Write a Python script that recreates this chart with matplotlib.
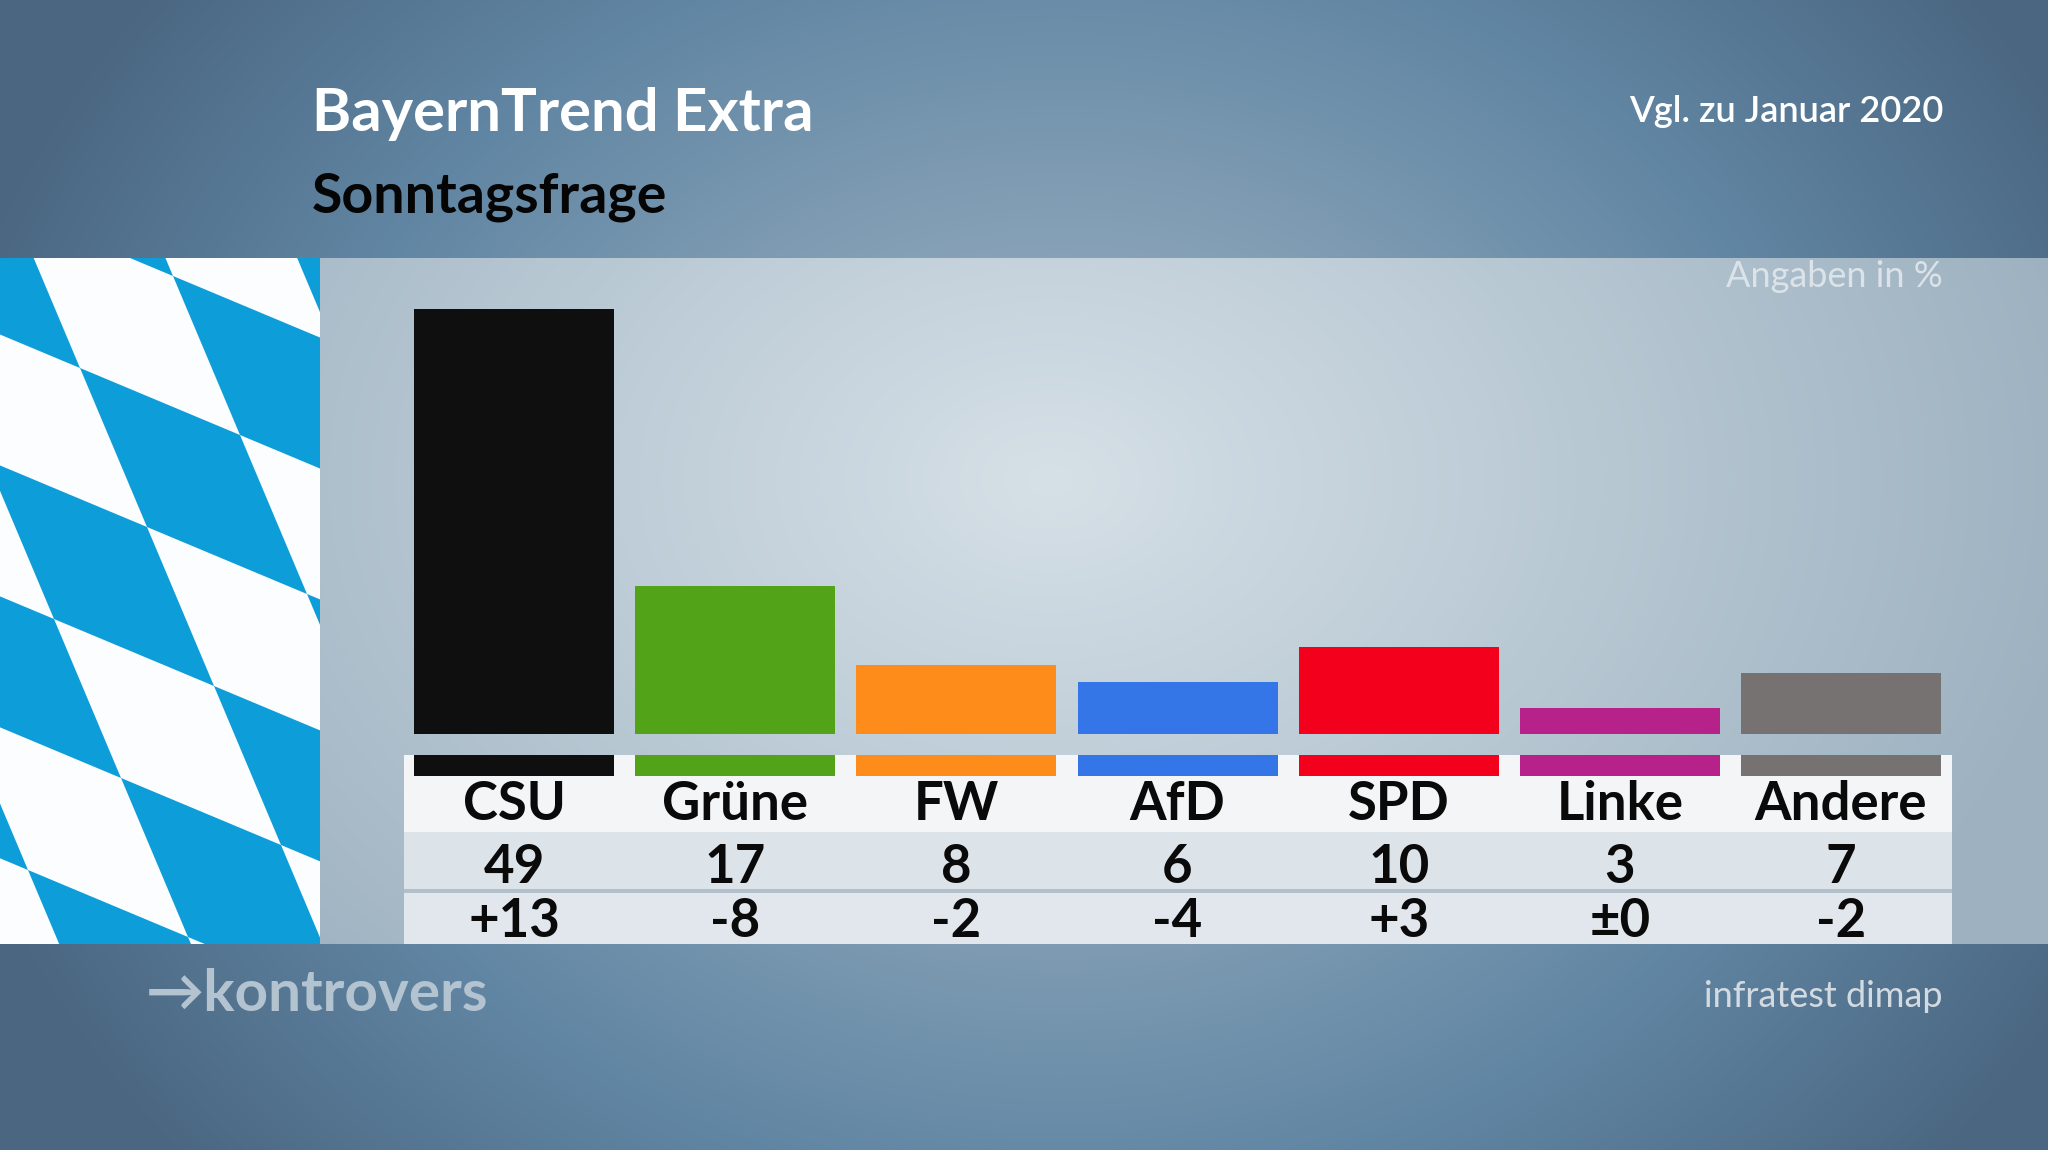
import matplotlib.pyplot as plt
import numpy as np
from matplotlib.patches import Polygon, Rectangle
from matplotlib.colors import to_rgb

# data
parties = ['CSU', 'Grüne', 'FW', 'AfD', 'SPD', 'Linke', 'Andere']
values = [49, 17, 8, 6, 10, 3, 7]
changes = ['+13', '-8', '-2', '-4', '+3', '±0', '-2']
colors = ['#0f0f0f', '#52a318', '#fd8c1b', '#3476e8', '#f2001c', '#b7228a', '#777272']

title = 'BayernTrend Extra'
subtitle = 'Sonntagsfrage'
compare = 'Vgl. zu Januar 2020'
unit_note = 'Angaben in %'
source = 'infratest dimap'
logo = '→kontrovers'

W, H = 2048, 1150
FONT = ['Lato', 'DejaVu Sans']


def px(x, y):
    # pixel position (from top-left) -> figure fraction
    return x / W, 1 - y / H


def gradient(x0, x1, y0, y1, cx, cy, rx, ry, stops):
    yy, xx = np.mgrid[y0:y1, x0:x1]
    t = np.clip(np.sqrt(((xx - cx) / rx) ** 2 + ((yy - cy) / ry) ** 2), 0, 1)
    pos = np.linspace(0, 1, len(stops))
    rgb = np.array([to_rgb(c) for c in stops])
    out = np.stack([np.interp(t, pos, rgb[:, c]) for c in range(3)], axis=-1)
    return out


fig = plt.figure(figsize=(20.48, 11.5), dpi=100)

# background layer in pixel coordinates
bg = fig.add_axes([0, 0, 1, 1])
bg.imshow(gradient(0, W, 0, H, 1060, 560, 1150, 950, ['#a4b9c9', '#86a1b7', '#6186a3', '#4a6681']),
          extent=(0, W, H, 0), aspect='auto', zorder=0)
band_top, band_bot, flag_w = 258, 944, 320
bg.imshow(gradient(flag_w, W, band_top, band_bot, 1050, 480, 1050, 750, ['#d6e0e7', '#b9c9d4', '#9db1c0']),
          extent=(flag_w, W, band_bot, band_top), aspect='auto', zorder=1)

# Bavarian flag (lozenges)
clip = Rectangle((0, band_top), flag_w, band_bot - band_top, facecolor='#fbfdfe',
                 edgecolor='none', zorder=2)
bg.add_patch(clip)
origin = np.array([80, 368])
a = np.array([160, 67])
b = np.array([67, 159])
for i in range(-6, 8):
    for j in range(-6, 8):
        if (i + j) % 2 != 0:
            continue
        p0 = origin + i * a + j * b
        poly = Polygon([p0, p0 + a, p0 + a + b, p0 + b], closed=True,
                       facecolor='#0d9dd8', edgecolor='none', zorder=3)
        bg.add_patch(poly)
        poly.set_clip_path(clip)

bg.set_xlim(0, W)
bg.set_ylim(H, 0)
bg.axis('off')

# bar chart + table axes
k = 8.68          # pixels per percent
base = 734        # baseline pixel row
ymax = (base - band_top) / k
ymin = -(band_bot - base) / k
left, right = 403.6, 1951.5
ax = fig.add_axes([left / W, (H - band_bot) / H, (right - left) / W, (band_bot - band_top) / H])
ax.patch.set_alpha(0)

x = np.arange(len(parties))
bw = 200 / 221.2
ax.bar(x, values, width=bw, color=colors, zorder=3)


def u(ypx):
    return (base - ypx) / k


# table rows
ax.axhspan(u(832), u(755), color='#f4f5f6', zorder=1, lw=0)
ax.axhspan(u(889), u(832), color='#dce3e9', zorder=1, lw=0)
ax.axhspan(u(893), u(889), color='#b2c0cb', zorder=1, lw=0)
ax.axhspan(u(944), u(893), color='#e1e7ec', zorder=1, lw=0)
ax.bar(x, u(776) - u(755), bottom=u(755), width=bw, color=colors, zorder=3)

for i in range(len(parties)):
    ax.text(x[i], u(820), parties[i], ha='center', va='baseline', fontsize=38,
            fontweight='bold', family=FONT, color='#0a0a0a', zorder=4)
    ax.text(x[i], u(883), str(values[i]), ha='center', va='baseline', fontsize=38,
            fontweight='bold', family=FONT, color='#0a0a0a', zorder=4)
    ax.text(x[i], u(937), changes[i], ha='center', va='baseline', fontsize=38,
            fontweight='bold', family=FONT, color='#0a0a0a', zorder=4)

ax.set_xlim(-0.5, 6.5)
ax.set_ylim(ymin, ymax)
ax.axis('off')

# header / footer texts
fig.text(*px(312, 131), title, fontsize=43, fontweight='bold', family=FONT, color='white')
fig.text(*px(312, 213), subtitle, fontsize=40, fontweight='bold', family=FONT, color='#050505')
fig.text(*px(1943, 122), compare, fontsize=26, fontweight='semibold', family=FONT,
         color='white', ha='right')
fig.text(*px(1943, 287), unit_note, fontsize=26, family=FONT, color='#dbe3e9', ha='right')
fig.text(*px(1943, 1007), source, fontsize=26, family=FONT,
         color='#d3dbe2', ha='right')
fig.text(*px(146, 1011), logo, fontsize=42, fontweight='bold', family=FONT, color='#b4c3d0')

fig.savefig('out.png', dpi=100)
